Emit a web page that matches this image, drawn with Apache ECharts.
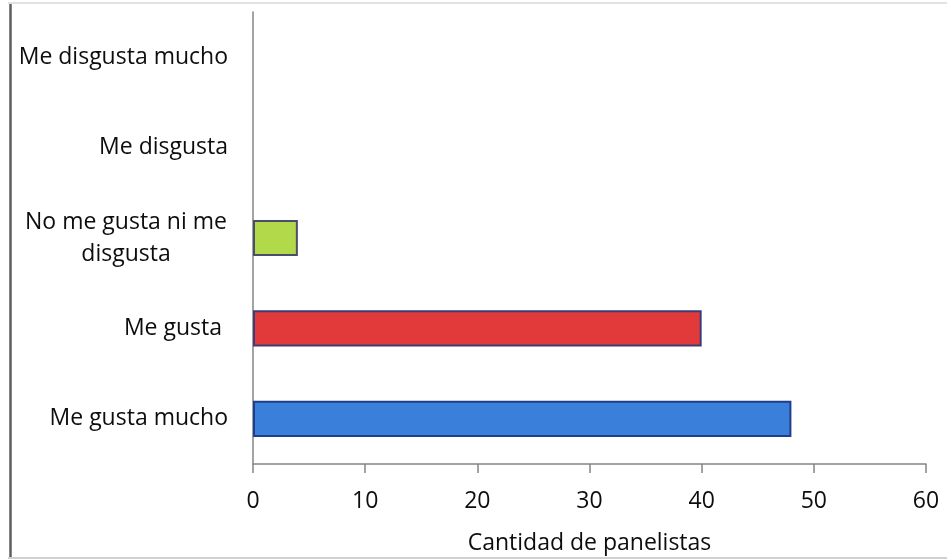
<!DOCTYPE html>
<html>
<head>
<meta charset="utf-8">
<script src="https://cdn.jsdelivr.net/npm/echarts@6/dist/echarts.min.js"></script>
<style>
  html, body { margin: 0; padding: 0; background: #fff; }
  #chart { width: 947px; height: 560px; }
</style>
</head>
<body>
<div id="chart"></div>
<script>
// Panel responses, listed bottom to top as they appear on the axis
const categories = [
  'Me gusta mucho',
  'Me gusta ',
  'No me gusta ni me\ndisgusta',
  'Me disgusta',
  'Me disgusta mucho'
];
const panelistCounts = [48, 40, 4, 0, 0];
const xTicks = [0, 10, 20, 30, 40, 50, 60];

const barFills = ['#3a80db', '#e23a3a', '#b2d94a', '#9a9a9a', '#9a9a9a'];
const barEdges = ['#1f3d8c', '#3c3c78', '#4a4e68', '#555555', '#555555'];

const FONT = '"Open Sans", "Noto Sans", sans-serif';
const TEXT = '#0d0d0d';
const AXIS = '#858585';

const chart = echarts.init(document.getElementById('chart'), null, { renderer: 'canvas' });

chart.setOption({
  animation: false,
  backgroundColor: '#ffffff',
  grid: { left: 253, right: 21, top: 12, bottom: 95, containLabel: false },
  xAxis: {
    type: 'value',
    min: xTicks[0],
    max: xTicks[xTicks.length - 1],
    interval: xTicks[1] - xTicks[0],
    name: 'Cantidad de panelistas',
    nameLocation: 'middle',
    nameGap: 68,
    nameTextStyle: { color: TEXT, fontFamily: FONT, fontSize: 23 },
    axisLine: { show: true, lineStyle: { color: AXIS, width: 1.5 } },
    axisTick: { show: true, length: 9, lineStyle: { color: AXIS, width: 1.5 } },
    axisLabel: { color: TEXT, fontFamily: FONT, fontSize: 23, margin: 26, lineHeight: 23 },
    splitLine: { show: false }
  },
  yAxis: {
    type: 'category',
    data: categories,
    axisLine: { show: true, lineStyle: { color: AXIS, width: 1.5 } },
    axisTick: { show: false },
    splitLine: { show: false },
    axisLabel: {
      color: TEXT,
      fontFamily: FONT,
      fontSize: 23,
      margin: 25,
      lineHeight: 32,
      align: 'right',
      formatter: function (v) {
        if (v.indexOf('\n') >= 0) {
          return v.split('\n').map(function (l) { return '{c|' + l + '}'; }).join('\n');
        }
        return v;
      },
      rich: {
        c: { width: 204, align: 'center', fontFamily: FONT, fontSize: 23, color: TEXT, lineHeight: 32 }
      }
    }
  },
  series: [{
    type: 'bar',
    barWidth: '40%',
    data: panelistCounts.map(function (v, i) {
      return {
        value: v,
        itemStyle: {
          color: barFills[i],
          borderColor: barEdges[i],
          borderWidth: v > 0 ? 2 : 0,
          opacity: v > 0 ? 1 : 0
        }
      };
    })
  }],
  graphic: [
    { type: 'line', shape: { x1: 10.5, y1: 3, x2: 10.5, y2: 559 }, style: { stroke: '#5e5e5e', lineWidth: 2.5 }, silent: true },
    { type: 'line', shape: { x1: 8, y1: 3, x2: 947, y2: 3 }, style: { stroke: '#e2e2e2', lineWidth: 2 }, silent: true },
    { type: 'line', shape: { x1: 8, y1: 558, x2: 947, y2: 558 }, style: { stroke: '#d0d0d0', lineWidth: 2 }, silent: true }
  ]
});
</script>
</body>
</html>
